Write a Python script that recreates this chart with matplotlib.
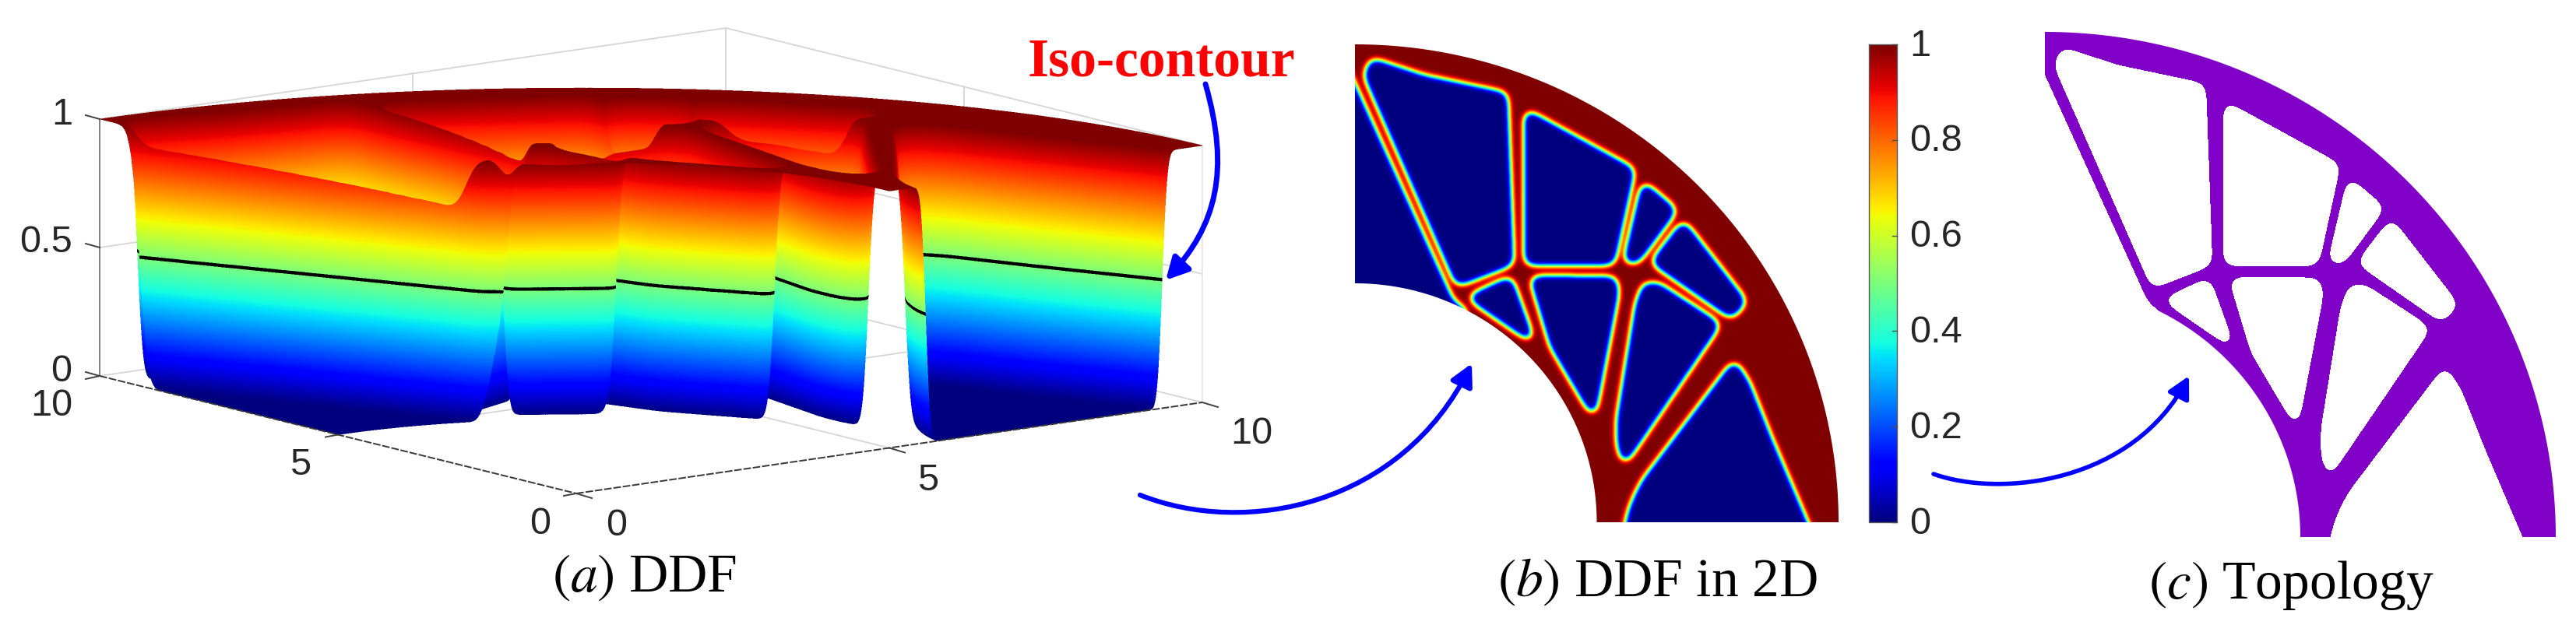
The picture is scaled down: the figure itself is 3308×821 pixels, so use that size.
import numpy as np
import matplotlib
matplotlib.use('Agg')
import matplotlib.pyplot as plt
from matplotlib.path import Path
from matplotlib.patches import FancyArrowPatch, Polygon

plt.rcParams['font.family'] = ['Liberation Sans', 'DejaVu Sans']
plt.rcParams['mathtext.fontset'] = 'stix'

# --- Design domain: quarter ring, holes given in domain units (0-10) ---
R_OUT = 10.0
R_IN = 5.0

hole_a = [(0.18, 9.34), (0.32, 9.70), (1.44, 9.33), (3.14, 8.97), (3.27, 5.38), (2.10, 4.92)]
hole_b = [(-0.5, 10.24), (0.0, 9.12), (2.02, 4.62), (2.40, 4.36), (1.0, 3.5), (-0.5, 3.5)]
hole_c = [(2.28, 4.70), (3.22, 5.14), (3.74, 3.68)]
hole_d = [(3.51, 8.64), (5.78, 7.38), (5.35, 5.38), (3.51, 5.38)]
hole_e = [(5.94, 7.14), (6.66, 6.52), (5.84, 5.40), (5.54, 5.42)]
hole_f = [(6.78, 6.32), (8.10, 4.60), (7.78, 4.24), (6.10, 5.42)]
hole_g = [(3.60, 5.14), (5.40, 5.12), (5.44, 4.78), (4.94, 2.12), (4.04, 3.66)]
hole_h = [(5.96, 5.00), (6.26, 5.00), (7.56, 4.14), (5.54, 1.14), (5.42, 1.60), (5.42, 2.18), (5.80, 4.56)]
hole_i = [(5.50, -0.6), (5.60, 0.0), (5.66, 0.25), (5.78, 0.55), (5.95, 0.88), (7.84, 3.40), (8.14, 2.92),
          (8.60, 1.75), (9.38, -0.1), (9.60, -0.6)]
holes = [hole_a, hole_b, hole_c, hole_d, hole_e, hole_f, hole_g, hole_h, hole_i]

# --- Chart texts and ticks ---
z_ticks = [0, 0.5, 1]
cbar_ticks = [0, 0.2, 0.4, 0.6, 0.8, 1]
cbar_labels = ['0', '0.2', '0.4', '0.6', '0.8', '1']
u_tick_labels = ['0', '5', '10']
v_tick_labels = ['0', '5', '10']
captions = [(r'$(a)$ DDF', 828, 743), (r'$(b)$ DDF in 2D', 2128, 748), (r'$(c)$ Topology', 2942, 752)]


# --- Field ---

def gauss_blur(arr, sigma, step):
    half = int(4 * sigma / step)
    xk = np.arange(-half, half + 1) * step
    kernel = np.exp(-0.5 * (xk / sigma) ** 2)
    kernel /= kernel.sum()
    out = np.apply_along_axis(lambda row: np.convolve(row, kernel, mode='same'), 1, arr)
    return np.apply_along_axis(lambda col: np.convolve(col, kernel, mode='same'), 0, out)


def build_field(step=0.01, round_sigma=0.11, band_sigma=0.065, power=1.5):
    grid = np.arange(-1.0, 11.0 + step, step)
    uu, vv = np.meshgrid(grid, grid)
    pts = np.column_stack([uu.ravel(), vv.ravel()])
    rounded = np.zeros(uu.shape, dtype=bool)
    for hole in holes:
        # corners rounded hole by hole so that thin struts survive
        void = Path(hole + [hole[0]]).contains_points(pts).reshape(uu.shape).astype(float)
        rounded |= gauss_blur(void, round_sigma, step) > 0.5
    solid = 1 - gauss_blur(rounded.astype(float), band_sigma, step)
    return grid, uu, vv, np.clip(solid, 0, 1) ** power


def sample(field, grid, u, v):
    step = grid[1] - grid[0]
    fx = np.clip((u - grid[0]) / step, 0, len(grid) - 1.001)
    fy = np.clip((v - grid[0]) / step, 0, len(grid) - 1.001)
    ix, iy = fx.astype(int), fy.astype(int)
    wx, wy = fx - ix, fy - iy
    return (field[iy, ix] * (1 - wx) * (1 - wy) + field[iy, ix + 1] * wx * (1 - wy)
            + field[iy + 1, ix] * (1 - wx) * wy + field[iy + 1, ix + 1] * wx * wy)


grid, uu, vv, ddf = build_field()

# --- Figure in pixel coordinates ---
fig = plt.figure(figsize=(33.08, 8.21), dpi=100)
ax = fig.add_axes([0, 0, 1, 1])

# 3D view of panel a, orthographic
ORIGIN = (740.0, 634.0)
U_VEC = (80.4, -11.7)
V_VEC = (-61.2, -15.1)
Z_LEN = 330.0
VIEW_U = -V_VEC[0] / U_VEC[0]   # ground direction of the line of sight


def project(u, v, z=0.0):
    return (ORIGIN[0] + U_VEC[0] * np.asarray(u) + V_VEC[0] * np.asarray(v),
            ORIGIN[1] + U_VEC[1] * np.asarray(u) + V_VEC[1] * np.asarray(v) - Z_LEN * np.asarray(z))


def line3d(p0, p1, **kw):
    x0, y0 = project(*p0)
    x1, y1 = project(*p1)
    ax.plot([x0, x1], [y0, y1], **kw)


def render_surface(x_lim, y_lim, ss=2, dv=0.002, iso_half=0.0065):
    # each pixel of a column shows the part of the sheet that the sight line meets first
    nx, ny = (x_lim[1] - x_lim[0]) * ss, (y_lim[1] - y_lim[0]) * ss
    img = np.full((ny, nx), np.nan)
    ts = np.arange(0, 10 + dv, dv)
    for col in range(nx):
        px = x_lim[0] + (col + 0.5) / ss
        u = (px - ORIGIN[0]) / U_VEC[0] + VIEW_U * ts
        rad = np.hypot(u, ts)
        inside = (u >= 0) & (rad >= R_IN) & (rad <= R_OUT)
        if not inside.any():
            continue
        edges = np.flatnonzero(np.diff(np.r_[0, inside.astype(int), 0]))
        for start, stop in zip(edges[::2], edges[1::2]):
            su, sv = u[start:stop], ts[start:stop]
            sz = sample(ddf, grid, su, sv)
            sy = (project(su, sv, sz)[1] - y_lim[0]) * ss
            walk = np.r_[0, np.cumsum(np.abs(np.diff(sy)))]
            pos = np.arange(0, walk[-1] + 0.5, 0.5)
            rows_all = np.floor(np.interp(pos, walk, sy)).astype(int)
            z_all = np.interp(pos, walk, sz)
            good = (rows_all >= 0) & (rows_all < ny)
            if not good.any():
                continue
            rows, first = np.unique(rows_all[good], return_index=True)
            free = np.isnan(img[rows, col])
            img[rows[free], col] = z_all[good][first[free]]
    rgba = plt.get_cmap('jet')(np.clip(np.nan_to_num(img), 0, 1))
    rgba[np.abs(img - 0.5) < iso_half, :3] = 0
    rgba[np.isnan(img)] = 0
    rgba[..., :3] *= rgba[..., 3:4]
    small = rgba.reshape(ny // ss, ss, nx // ss, ss, 4).mean(axis=(1, 3))
    alpha = np.maximum(small[..., 3:4], 1e-6)
    small[..., :3] = np.clip(small[..., :3] / alpha, 0, 1)
    return small


# back walls and floor grid
grid_kw = dict(color='0.84', lw=1.3, zorder=1)
for z in z_ticks[1:]:
    line3d((0, 10, z), (10, 10, z), **grid_kw)
    line3d((10, 10, z), (10, 0, z), **grid_kw)
line3d((10, 10, 0), (10, 10, 1), **grid_kw)
line3d((5, 10, 0), (5, 10, 1), **grid_kw)
line3d((10, 5, 0), (10, 5, 1), **grid_kw)
line3d((10, 0, 0), (10, 0, 1), color='0.9', lw=1.3, zorder=1)
line3d((5, 0, 0), (5, 10, 0), **grid_kw)
line3d((0, 5, 0), (10, 5, 0), **grid_kw)
line3d((10, 10, 0), (10, 0, 0), **grid_kw)
line3d((10, 10, 0), (0, 10, 0), **grid_kw)

X_RANGE = (120, 1560)
Y_RANGE = (90, 650)
ax.imshow(render_surface(X_RANGE, Y_RANGE), aspect='auto', interpolation='nearest',
          extent=(X_RANGE[0], X_RANGE[1], Y_RANGE[1], Y_RANGE[0]), zorder=2)

# front axis lines and ticks
axis_kw = dict(color='0.22', lw=1.4, zorder=4, ls=(0, (5, 1.2)))
line3d((0, 10, 0), (0, 0, 0), **axis_kw)
line3d((0, 0, 0), (10, 0, 0), **axis_kw)
line3d((0, 10, 0), (0, 10, 1), color='0.5', lw=1.4, zorder=1.5)
tick_kw = dict(color='0.25', lw=1.4, zorder=4)
for z in z_ticks:
    x0, y0 = project(0, 10, z)
    ax.plot([x0 - 18, x0], [y0 - 5, y0], **tick_kw)
x0, y0 = project(0, 10, 0)
ax.plot([x0 - 18, x0], [y0 + 4, y0], **tick_kw)
for v in (0, 5):
    x0, y0 = project(0, v, 0)
    ax.plot([x0 - 16, x0], [y0 + 3, y0], **tick_kw)
for u in (0, 5, 10):
    x0, y0 = project(u, 0, 0)
    ax.plot([x0, x0 + 20], [y0, y0 + 6], **tick_kw)

tick_font = dict(fontsize=35, color='#262626', ha='center', va='center', zorder=6)
ax.text(80, 147, '1', **tick_font)
ax.text(59, 312, '0.5', **tick_font)
ax.text(79, 477, '0', **tick_font)
for lab, (x, y) in zip(v_tick_labels, [(694, 673), (386, 597), (66, 522)]):
    ax.text(x, y, lab, **tick_font)
for lab, (x, y) in zip(u_tick_labels, [(792, 676), (1192, 618), (1607, 557)]):
    ax.text(x, y, lab, **tick_font)

# --- Panel b and c ---
theta = np.linspace(0, np.pi / 2, 400)
ring_u = np.r_[R_OUT * np.cos(theta), R_IN * np.cos(theta[::-1])]
ring_v = np.r_[R_OUT * np.sin(theta), R_IN * np.sin(theta[::-1])]

B_X0, B_Y0, B_SX, B_SY = 1740.0, 671.0, 62.1, 61.4
C_X0, C_Y0, C_SX, C_SY = 2626.0, 690.0, 65.6, 64.9

clip_b = Polygon(np.column_stack([B_X0 + B_SX * ring_u, B_Y0 - B_SY * ring_v]),
                 transform=ax.transData, fc='none', ec='none')
ax.add_patch(clip_b)
im = ax.imshow(ddf, cmap='jet', vmin=0, vmax=1, origin='lower', aspect='auto', interpolation='bilinear',
               extent=(B_X0 - B_SX, B_X0 + 11 * B_SX, B_Y0 + B_SY, B_Y0 - 11 * B_SY), zorder=2)
im.set_clip_path(clip_b)

clip_c = Polygon(np.column_stack([C_X0 + C_SX * ring_u, C_Y0 - C_SY * ring_v]),
                 transform=ax.transData, fc='none', ec='none')
ax.add_patch(clip_c)
topo = ax.contourf(C_X0 + C_SX * uu, C_Y0 - C_SY * vv, ddf, levels=[0.5, 1.5], colors=['#8000C8'], zorder=2)
topo.set_clip_path(clip_c)

# colorbar
CB_X0, CB_X1, CB_TOP, CB_BOT = 2400, 2436, 57, 671
ax.imshow(np.linspace(1, 0, 512)[:, None], cmap='jet', vmin=0, vmax=1, aspect='auto',
          extent=(CB_X0, CB_X1, CB_BOT, CB_TOP), zorder=2)
ax.plot([CB_X0, CB_X1, CB_X1, CB_X0, CB_X0], [CB_TOP, CB_TOP, CB_BOT, CB_BOT, CB_TOP], color='0.35', lw=1, zorder=3)
for val, lab in zip(cbar_ticks, cbar_labels):
    yy = CB_BOT - val * (CB_BOT - CB_TOP)
    ax.plot([CB_X1 - 6, CB_X1], [yy, yy], color='0.3', lw=1, zorder=3)
    ax.text(2452, yy + 2, lab, fontsize=35, color='#262626', ha='left', va='center', zorder=6)

# --- Arrows and texts ---
arrow_paths = [
    [(1548, 108), (1580, 220), (1562, 290), (1497, 360)],
    [(1464, 636), (1600, 690), (1800, 650), (1890, 467)],
    [(2483, 609), (2570, 640), (2740, 620), (2811, 483)],
]
arrow_widths = [5, 4.5, 4]
for pts, width in zip(arrow_paths, arrow_widths):
    path = Path(pts, [Path.MOVETO, Path.CURVE4, Path.CURVE4, Path.CURVE4])
    ax.add_patch(FancyArrowPatch(path=path, arrowstyle='-|>,head_length=0.8,head_width=0.42', mutation_scale=21,
                                 color='#0000FF', lw=width, zorder=7, shrinkA=0, shrinkB=0))

ax.text(1491, 80, 'Iso-contour', fontsize=50, family='Liberation Serif', weight='bold', color='#FF0000',
        ha='center', va='center', zorder=8)
for text, x, y in captions:
    ax.text(x, y, text, fontsize=50, family='Liberation Serif', color='k', ha='center', va='center', zorder=8)

ax.set_xlim(0, 3308)
ax.set_ylim(821, 0)
ax.axis('off')
fig.savefig('out.png', dpi=100, facecolor='white')
